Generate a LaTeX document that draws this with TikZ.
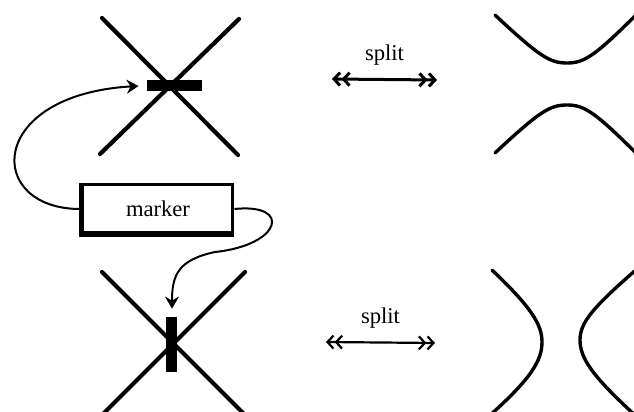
\documentclass[tikz,border=0pt]{standalone}
\usepackage{fontspec}
\setmainfont{Liberation Serif}
\usepackage{tikz}
\usetikzlibrary{arrows.meta}

\begin{document}
\begin{tikzpicture}[x=0.5pt, y=-0.5pt,
    font=\fontsize{11.3}{13}\selectfont,
    cross/.style={line width=2.1pt, line cap=round},
    branch/.style={line width=1.7pt, line cap=round},
    splitarrow/.style={line width=1.5pt,
      {Straight Barb[length=3pt,width=6.5pt]Straight Barb[length=3pt,width=6.5pt]}-{Straight Barb[length=3pt,width=6.5pt]Straight Barb[length=3pt,width=6.5pt]}},
    link/.style={line width=1pt, -{Stealth[length=6pt,width=7pt,inset=2pt]}, shorten >=4pt},
    markbar/.style={fill=black, inner sep=0pt}]
    \useasboundingbox (0,0) rectangle (634,412);

    % Upper crossing with horizontal marker
    \draw[cross] (102,18) -- (238,155);
    \draw[cross] (239,19) -- (100,154);
    \node[markbar, minimum width=27.5pt, minimum height=5.5pt] (bartop) at (174.5,85.5) {};

    % Lower crossing with vertical marker
    \draw[cross] (102,272) -- (247,417);
    \draw[cross] (245,272) -- (100,417);
    \node[markbar, minimum width=5.5pt, minimum height=27.5pt] (barbot) at (172,344.5) {};

    % Marker box
    \node[draw, line width=1.5pt, minimum width=75pt, minimum height=24pt,
          inner sep=0pt] (marker) at (158,209) {marker};
    \draw[line width=2.5pt] (marker.north west) -- (marker.south west) -- (marker.south east);

    % Connectors from the box
    \draw[link] (marker.west) .. controls (-15,210) and (-15,95) .. (bartop.west);
    \draw[link] (marker.east) .. controls (292,203) and (282,245) .. (215,252)
                .. controls (178,260) and (172,275) .. (barbot.north);

    % Split arrows
    \coordinate (s1a) at (332,79);
    \coordinate (s1b) at (437,80);
    \draw[splitarrow] (s1a) -- (s1b) node[midway, above=3pt] (lab1) {split};
    \coordinate (s2a) at (326,342);
    \coordinate (s2b) at (435,343);
    \draw[splitarrow, line width=1.1pt] (s2a) -- (s2b) node[midway, above=3pt] (lab2) {split};

    % Split upper crossing
    \draw[branch] (495,15) .. controls (540,57) and (550,63) .. (567,63)
                  .. controls (584,63) and (594,57) .. (639,12);
    \draw[branch] (495,153) .. controls (540,111) and (550,105) .. (567,105)
                  .. controls (584,105) and (594,111) .. (639,156);

    % Split lower crossing
    \draw[branch] (492,270) .. controls (532,308) and (542,325) .. (542,342)
                  .. controls (542,360) and (532,378) .. (488,417);
    \draw[branch] (637,269) .. controls (592,308) and (580,323) .. (580,340)
                  .. controls (580,358) and (592,376) .. (637,417);
\end{tikzpicture}
\end{document}
